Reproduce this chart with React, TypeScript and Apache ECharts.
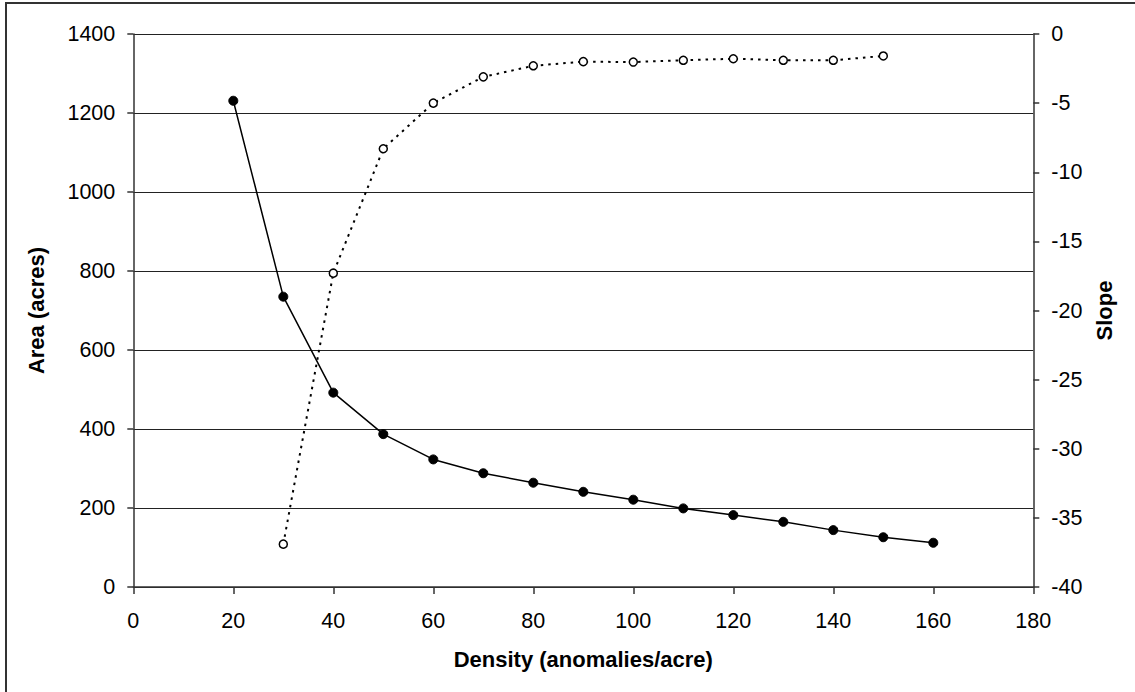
import React, { useEffect, useRef } from "react";
import * as echarts from "echarts";

const densityArea = [20, 30, 40, 50, 60, 70, 80, 90, 100, 110, 120, 130, 140, 150, 160];
const areaAcres = [1231, 735, 492, 387, 323, 288, 264, 241, 221, 199, 182, 165, 144, 126, 112];

const densitySlope = [30, 40, 50, 60, 70, 80, 90, 100, 110, 120, 130, 140, 150];
const slopeValues = [-36.9, -17.3, -8.3, -5.0, -3.1, -2.3, -2.0, -2.03, -1.9, -1.79, -1.9, -1.9, -1.59];

const FONT = "'Liberation Sans', Arial, sans-serif";

export default function App() {
  const ref = useRef<HTMLDivElement>(null);
  useEffect(() => {
    if (!ref.current) return;
    const chart = echarts.init(ref.current, undefined, { renderer: "svg" });
    const areaData = densityArea.map((x, i) => [x, areaAcres[i]]);
    const slopeData = densitySlope.map((x, i) => [x, slopeValues[i]]);
    const plain = (v: number) => String(v);
    chart.setOption({
      animation: false,
      backgroundColor: "#ffffff",
      textStyle: { fontFamily: FONT },
      grid: { left: 133.3, right: 101.7, top: 34, bottom: 105, containLabel: false },
      graphic: [
        {
          type: "rect",
          shape: { x: 6, y: 3, width: 1400, height: 1000 },
          style: { fill: "none", stroke: "#333", lineWidth: 2 },
          silent: true,
        },
      ],
      xAxis: {
        type: "value",
        min: 0,
        max: 180,
        interval: 20,
        name: "Density (anomalies/acre)",
        nameLocation: "middle",
        nameGap: 61,
        nameTextStyle: { fontFamily: FONT, fontSize: 22, fontWeight: "bold", color: "#000" },
        axisLine: { show: true, onZero: false, lineStyle: { color: "#333", width: 1.5 } },
        axisTick: { show: true, inside: false, length: 7, lineStyle: { color: "#333", width: 1.5 } },
        axisLabel: { fontFamily: FONT, fontSize: 21.5, color: "#000", margin: 23, formatter: plain },
        splitLine: { show: false },
      },
      yAxis: [
        {
          type: "value",
          min: 0,
          max: 1400,
          interval: 200,
          position: "left",
          name: "Area (acres)",
          nameLocation: "middle",
          nameGap: 86,
          nameTextStyle: { fontFamily: FONT, fontSize: 22, fontWeight: "bold", color: "#000" },
          axisLine: { show: true, lineStyle: { color: "#333", width: 1.5 } },
          axisTick: { show: true, inside: false, length: 6, lineStyle: { color: "#333", width: 1.5 } },
          axisLabel: { fontFamily: FONT, fontSize: 21.5, color: "#000", margin: 18, formatter: plain },
          splitLine: { show: true, lineStyle: { color: "#222", width: 1.2 } },
        },
        {
          type: "value",
          min: -40,
          max: 0,
          interval: 5,
          position: "right",
          name: "Slope",
          nameLocation: "middle",
          nameGap: 59,
          nameTextStyle: { fontFamily: FONT, fontSize: 22, fontWeight: "bold", color: "#000" },
          axisLine: { show: true, lineStyle: { color: "#333", width: 1.5 } },
          axisTick: { show: true, inside: false, length: 6, lineStyle: { color: "#333", width: 1.5 } },
          axisLabel: { fontFamily: FONT, fontSize: 21.5, color: "#000", margin: 18, formatter: plain },
          splitLine: { show: false },
        },
      ],
      series: [
        {
          name: "Area",
          type: "line",
          yAxisIndex: 0,
          data: areaData,
          symbol: "circle",
          symbolSize: 9,
          itemStyle: { color: "#000", borderColor: "#000" },
          lineStyle: { color: "#000", width: 1.5 },
          z: 3,
        },
        {
          name: "Slope",
          type: "line",
          yAxisIndex: 1,
          data: slopeData,
          symbol: "circle",
          symbolSize: 8,
          showAllSymbol: true,
          itemStyle: { color: "#fff", borderColor: "#000", borderWidth: 1.5 },
          lineStyle: { color: "#000", width: 2, type: [2.5, 5] },
          z: 3,
        },
      ],
    });
    return () => chart.dispose();
  }, []);
  return (
    <div
      ref={ref}
      style={{ position: "absolute", left: 0, top: 0, width: 1135, height: 692 }}
    />
  );
}
